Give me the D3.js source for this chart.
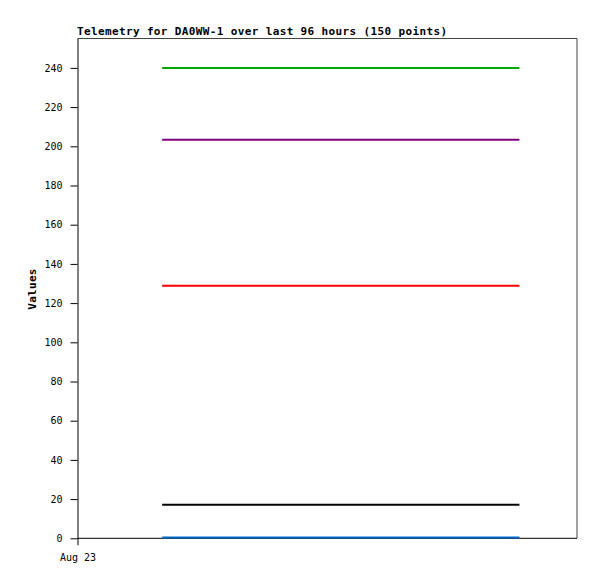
<!DOCTYPE html>
<html><head><meta charset="utf-8">
<script src="https://cdn.jsdelivr.net/npm/d3@7"></script>
<style>
body{margin:0;background:#fff;}
text{font-family:"DejaVu Sans Mono","Liberation Mono",monospace;}
</style></head>
<body>
<script>
const title = "Telemetry for DA0WW-1 over last 96 hours (150 points)";
const yLabel = "Values";
const xStart = new Date(2023, 7, 23, 0, 0);
const xEnd = new Date(2023, 7, 24, 0, 0);
const times = [new Date(2023, 7, 23, 4, 4), new Date(2023, 7, 23, 21, 14)];
const seriesNames = ["green", "purple", "red", "black", "blue"];
const seriesColors = ["#00aa00", "#800080", "#ff0000", "#000000", "#0066cc"];
const greenVals = [240, 240];
const purpleVals = [203.3, 203.3];
const redVals = [128.8, 128.8];
const blackVals = [17.1, 17.1];
const blueVals = [0.4, 0.4];
const yTicks = [0,20,40,60,80,100,120,140,160,180,200,220,240];
const xTicks = [new Date(2023, 7, 23, 0, 0)];
const xTickLabels = ["Aug 23"];

const W = 597, H = 579;
const m = {left: 77.5, right: 20, top: 38.5, bottom: 40.7};
const svg = d3.select("body").append("svg").attr("width", W).attr("height", H);
const x = d3.scaleTime().domain([xStart, xEnd]).range([m.left, W - m.right]);
const y = d3.scaleLinear().domain([0, 255]).range([H - m.bottom, m.top]);

// frame top/right
svg.append("path")
  .attr("d", `M${m.left},${m.top}H${W-m.right}V${H-m.bottom}`)
  .attr("fill", "none").attr("stroke", "#444").attr("stroke-width", 1);

const yAxis = svg.append("g").attr("transform", `translate(${m.left},0)`)
  .call(d3.axisLeft(y).tickValues(yTicks).tickSize(7).tickPadding(8).tickSizeOuter(0));
const xAxis = svg.append("g").attr("transform", `translate(0,${H - m.bottom})`)
  .call(d3.axisBottom(x).tickValues(xTicks).tickFormat((d, i) => xTickLabels[i]).tickSize(7).tickPadding(9).tickSizeOuter(0));
[yAxis, xAxis].forEach(g => {
  g.select(".domain").attr("stroke", "#000");
  g.selectAll(".tick line").attr("stroke", "#000");
  g.selectAll("text").attr("fill", "#000").style("font-family", '"DejaVu Sans Mono", monospace').style("font-size", "10px");
});
xAxis.select(".domain").attr("d", `M${m.left},0H${W-m.right}`);

const allVals = [greenVals, purpleVals, redVals, blackVals, blueVals];
const line = d3.line().x((d, i) => x(times[i])).y(d => y(d));
allVals.forEach((vals, k) => {
  svg.append("path").datum(vals).attr("d", line)
    .attr("fill", "none").attr("stroke", seriesColors[k]).attr("stroke-width", 2);
});

svg.append("text").attr("x", 77).attr("y", 35)
  .attr("textLength", 370).attr("lengthAdjust", "spacing")
  .style("font-size", "11px").style("font-weight", "bold").text(title);
svg.append("text").attr("transform", `translate(36,289) rotate(-90)`)
  .attr("text-anchor", "middle").style("font-size", "11px").style("font-weight", "bold")
  .style("letter-spacing", "0.3px").text(yLabel);
</script>
</body></html>
